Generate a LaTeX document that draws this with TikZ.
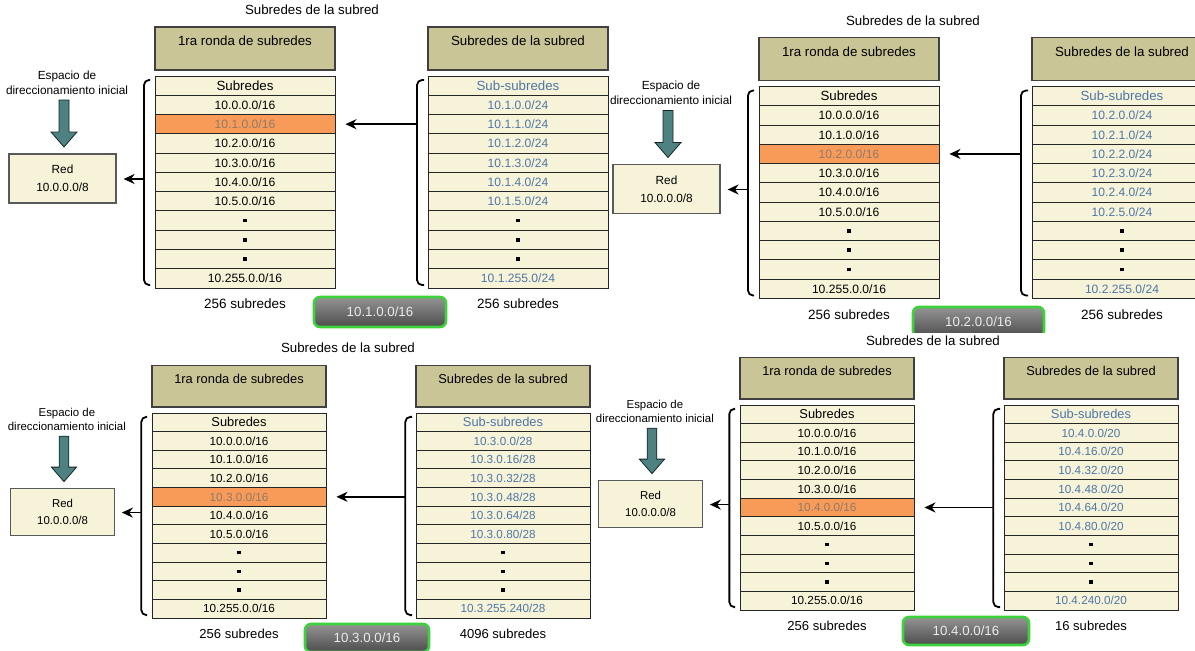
\documentclass[tikz,border=0pt]{standalone}
\usepackage{fontspec}
\setmainfont{Liberation Sans}
\usetikzlibrary{arrows.meta,calc}
\definecolor{netCream}{HTML}{F6F3D8}
\definecolor{netKhaki}{HTML}{C9C596}
\definecolor{netOrange}{HTML}{F89B58}
\definecolor{netBlue}{HTML}{4D76A6}
\definecolor{netTeal}{HTML}{4E8282}
\definecolor{netGreen}{HTML}{3CD23C}
\definecolor{netMuted}{HTML}{8E7A6A}
\tikzset{
  cell/.style={draw=black!85,fill=netCream,line width=0.9pt,minimum width=180pt,
    minimum height=19.27pt,inner sep=0pt,font=\fontsize{12.1}{13}\selectfont},
  topcell/.style={cell,font=\fontsize{13.3}{15}\selectfont},
  hlcell/.style={cell,fill=netOrange,text=netMuted},
  subcell/.style={cell,text=netBlue},
  subtop/.style={topcell,text=netBlue},
  headbox/.style={draw=black!75,fill=netKhaki,line width=1.4pt,minimum width=180pt,
    minimum height=43pt,inner sep=0pt,text depth=15pt,font=\fontsize{13.3}{15}\selectfont},
  redbox/.style={draw=black!65,fill=netCream,line width=1.2pt,minimum width=107pt,
    minimum height=49pt,align=center,font=\fontsize{11.8}{18}\selectfont},
  note/.style={align=center,font=\fontsize{11.8}{15}\selectfont},
  count/.style={font=\fontsize{13.5}{15}\selectfont},
  paneltitle/.style={font=\fontsize{13.3}{15}\selectfont},
  flow/.style={-{Stealth[length=11pt,width=10pt]},line width=1.8pt},
  bracket/.style={line width=1.8pt,rounded corners=5pt},
  bigarrow/.style={draw=black!70!netTeal,fill=netTeal,line width=0.8pt},
  button/.style={draw=netGreen,line width=2.6pt,rounded corners=6pt,top color=black!42,
    bottom color=black!70,text=black!8,inner sep=0pt,font=\fontsize{13.3}{15}\selectfont}
}
\newcommand{\vd}{\textcolor{black}{\rule{3.6pt}{3.6pt}}}
% #1 prefix, #2 highlighted row, #3 sub-subnet rows, #4 count below them
\newcommand{\subnetpanel}[4]{%
  \node[note] (#1esp) at (67,82.5) {Espacio de\\direccionamiento inicial};
  \filldraw[bigarrow] (59,100) -- (69,100) -- (69,132) -- (77,132) -- (64,147)
    -- (51,132) -- (59,132) -- cycle;
  \node[redbox] (#1red) at (62.5,178.5) {Red\\10.0.0.0/8};

  \node[headbox] (#1hl) at (245,48.5) {1ra ronda de subredes};
  \node[headbox] (#1hr) at (518,48.5) {Subredes de la subred};

  \foreach \t [count=\i from 0] in {Subredes,10.0.0.0/16,10.1.0.0/16,10.2.0.0/16,
      10.3.0.0/16,10.4.0.0/16,10.5.0.0/16,\vd,\vd,\vd,10.255.0.0/16} {
    \ifnum\i=0 \def\sty{topcell}\else\ifnum\i=#2 \def\sty{hlcell}\else\def\sty{cell}\fi\fi
    \node[\sty] (#1l\i) at (245,{76+19.27*(\i+0.5)}) {\t};
  }
  \foreach \t [count=\i from 0] in {Sub-subredes,#3} {
    \ifnum\i=0 \def\sty{subtop}\else\def\sty{subcell}\fi
    \node[\sty] (#1r\i) at (518,{76+19.27*(\i+0.5)}) {\t};
  }

  \draw[bracket] (150,80) -- (144,80) -- (144,285) -- (150,285);
  \draw[bracket] (424,80) -- (417,80) -- (417,285) -- (424,285);
  \coordinate (#1lb) at (144,179);
  \coordinate (#1rb) at (417,0);
  \draw[flow,shorten >=7pt] (#1lb) -- (#1lb -| #1red.east);
  \draw[flow,shorten >=10pt] (#1rb |- #1l#2) -- (#1l#2.east);

  \node[count] (#1cl) at (245,304) {256 subredes};
  \node[count] (#1cr) at (518,304) {#4};
}

\begin{document}
\begin{tikzpicture}[x=1pt,y=-1pt]
  \useasboundingbox (0,0) rectangle (1195,651);
  \clip (0,0) rectangle (1195,651);

  \begin{scope}
    \subnetpanel{p1}{2}{10.1.0.0/24,10.1.1.0/24,10.1.2.0/24,10.1.3.0/24,10.1.4.0/24,
      10.1.5.0/24,\vd,\vd,\vd,10.1.255.0/24}{256 subredes}
  \end{scope}
  \node[paneltitle] (t1) at (312,10) {Subredes de la subred};
  \node[button,minimum width=132pt,minimum height=30pt] (b1) at (380,312) {10.1.0.0/16};

  \begin{scope}[shift={(604,10.5)}]
    \subnetpanel{p2}{3}{10.2.0.0/24,10.2.1.0/24,10.2.2.0/24,10.2.3.0/24,10.2.4.0/24,
      10.2.5.0/24,\vd,\vd,\vd,10.2.255.0/24}{256 subredes}
  \end{scope}
  \node[paneltitle] (t2) at (913,21) {Subredes de la subred};
  \begin{scope}
    \clip (900,300) rectangle (1060,332);
    \node[button,minimum width=131pt,minimum height=30pt] (b2) at (978.5,322) {10.2.0.0/16};
  \end{scope}

  \begin{scope}[shift={(2.1,339.5)},scale=0.967,transform shape]
    \subnetpanel{p3}{4}{10.3.0.0/28,10.3.0.16/28,10.3.0.32/28,10.3.0.48/28,10.3.0.64/28,
      10.3.0.80/28,\vd,\vd,\vd,10.3.255.240/28}{4096 subredes}
  \end{scope}
  \node[paneltitle] (t3) at (348,348) {Subredes de la subred};
  \node[button,minimum width=124pt,minimum height=28pt] (b3) at (367,638) {10.3.0.0/16};

  \begin{scope}[shift={(590.1,331.5)},scale=0.967,transform shape]
    \subnetpanel{p4}{5}{10.4.0.0/20,10.4.16.0/20,10.4.32.0/20,10.4.48.0/20,10.4.64.0/20,
      10.4.80.0/20,\vd,\vd,\vd,10.4.240.0/20}{16 subredes}
  \end{scope}
  \node[paneltitle] (t4) at (933,341) {Subredes de la subred};
  \node[button,minimum width=126pt,minimum height=28pt] (b4) at (966,631) {10.4.0.0/16};
\end{tikzpicture}
\end{document}
